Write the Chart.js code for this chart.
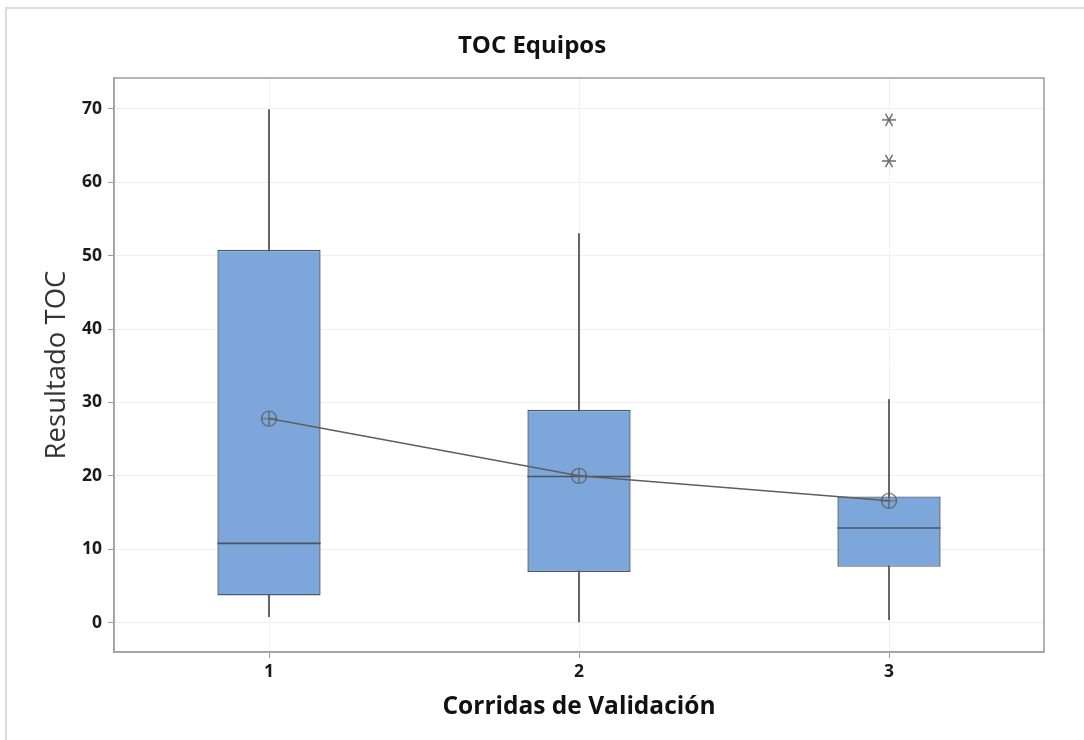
<!DOCTYPE html>
<html>
<head>
<meta charset="utf-8">
<script src="https://cdn.jsdelivr.net/npm/chart.js@4.4.1/dist/chart.umd.min.js"></script>
<style>
  html, body { margin: 0; padding: 0; background: #fff; }
  #wrap { width: 1084px; height: 740px; position: relative; }
</style>
</head>
<body>
<div id="wrap"><canvas id="tocChart" width="1084" height="740"></canvas></div>
<script>
// datos
var corridas = ['1', '2', '3'];
var bigoteMin = [0.8, 0.1, 0.4];
var q1 = [3.7, 6.9, 7.6];
var mediana = [10.8, 19.9, 12.9];
var q3 = [50.8, 29.0, 17.2];
var bigoteMax = [69.9, 53.0, 30.4];
var media = [27.8, 20.0, 16.6];
var atipicosCorrida = ['3', '3'];
var atipicosValor = [68.5, 62.9];
var yTicks = [0, 10, 20, 30, 40, 50, 60, 70];

var gris = '#5e5e5e';

// simbolo de media: circulo con cruz
function marcaMedia() {
  var c = document.createElement('canvas');
  c.width = 20; c.height = 20;
  var g = c.getContext('2d');
  g.strokeStyle = gris;
  g.lineWidth = 1.2;
  g.beginPath();
  g.arc(10, 10, 7.5, 0, Math.PI * 2);
  g.moveTo(2.5, 10); g.lineTo(17.5, 10);
  g.moveTo(10, 2.5); g.lineTo(10, 17.5);
  g.stroke();
  return c;
}

// asterisco de atipicos
function marcaAtipico() {
  var c = document.createElement('canvas');
  c.width = 18; c.height = 18;
  var g = c.getContext('2d');
  g.strokeStyle = '#6a6a6a';
  g.lineWidth = 1.4;
  g.beginPath();
  for (var k = 0; k < 3; k++) {
    var a = k * Math.PI / 3;
    g.moveTo(9 - 7 * Math.cos(a), 9 - 7 * Math.sin(a));
    g.lineTo(9 + 7 * Math.cos(a), 9 + 7 * Math.sin(a));
  }
  g.stroke();
  return c;
}

var cajasPlugin = {
  id: 'cajas',
  beforeDraw: function (chart) {
    var ctx = chart.ctx;
    ctx.save();
    ctx.strokeStyle = '#dcdcdc';
    ctx.lineWidth = 2;
    ctx.beginPath();
    ctx.moveTo(6, 740); ctx.lineTo(6, 8); ctx.lineTo(1084, 8);
    ctx.stroke();
    ctx.restore();
  },
  afterDatasetDraw: function (chart, args) {
    if (args.index !== 1) return;
    // medianas sobre las cajas
    var ctx = chart.ctx;
    var meta = chart.getDatasetMeta(1);
    var y = chart.scales.y;
    ctx.save();
    ctx.strokeStyle = '#4a5561';
    ctx.lineWidth = 1.6;
    meta.data.forEach(function (bar, i) {
      var py = y.getPixelForValue(mediana[i]);
      ctx.beginPath();
      ctx.moveTo(bar.x - bar.width / 2, py);
      ctx.lineTo(bar.x + bar.width / 2, py);
      ctx.stroke();
    });
    ctx.restore();
  },
  afterDraw: function (chart) {
    var a = chart.chartArea;
    var ctx = chart.ctx;
    ctx.save();
    ctx.strokeStyle = '#a2a2a2';
    ctx.lineWidth = 1.6;
    ctx.strokeRect(a.left, a.top, a.right - a.left, a.bottom - a.top);
    ctx.restore();
  }
};

var ctx = document.getElementById('tocChart').getContext('2d');
var tocChart = new Chart(ctx, {
  type: 'bar',
  data: {
    labels: corridas,
    datasets: [
      {
        type: 'line',
        data: media,
        borderColor: gris,
        borderWidth: 1.5,
        pointStyle: marcaMedia(),
        pointRadius: 9,
        tension: 0,
        fill: false,
        order: 0
      },
      {
        data: corridas.map(function (c, i) { return [q1[i], q3[i]]; }),
        backgroundColor: '#7da7db',
        borderColor: '#4d5a68',
        borderWidth: 1.4,
        borderSkipped: false,
        barPercentage: 0.333,
        categoryPercentage: 1,
        grouped: false,
        order: 2
      },
      {
        // bigotes
        data: corridas.map(function (c, i) { return [bigoteMin[i], bigoteMax[i]]; }),
        backgroundColor: '#666666',
        borderWidth: 0,
        barThickness: 1.4,
        grouped: false,
        order: 3
      },
      {
        type: 'line',
        data: atipicosCorrida.map(function (c, i) { return { x: c, y: atipicosValor[i] }; }),
        showLine: false,
        pointStyle: marcaAtipico(),
        pointRadius: 8,
        order: 1
      }
    ]
  },
  options: {
    responsive: false,
    animation: false,
    events: [],
    layout: { padding: { left: 20, right: 40, top: 0, bottom: 0 } },
    plugins: {
      legend: { display: false },
      tooltip: { enabled: false },
      title: {
        display: true,
        text: 'TOC Equipos',
        color: '#111',
        font: { family: 'Open Sans', size: 24, weight: 'bold' },
        padding: { top: 31.6, bottom: 17.6 }
      }
    },
    scales: {
      x: {
        offset: true,
        afterFit: function (s) { s.height = 88; },
        grid: { offset: false, color: '#f0f0f0', tickColor: '#9a9a9a', tickLength: 6 },
        border: { color: '#a2a2a2', width: 1.6 },
        ticks: {
          color: '#1a1a1a',
          padding: 4,
          font: { family: 'Open Sans', size: 17.5, weight: 'bold' }
        },
        title: {
          display: true,
          text: 'Corridas de Validación',
          color: '#111',
          font: { family: 'Open Sans', size: 24.5, weight: 'bold' },
          padding: { bottom: 18.3 }
        }
      },
      y: {
        min: -4,
        max: 74.2,
        afterFit: function (s) { s.width = 94; },
        afterBuildTicks: function (s) { s.ticks = yTicks.map(function (v) { return { value: v }; }); },
        grid: { color: '#f0f0f0', tickColor: '#9a9a9a', tickLength: 6 },
        border: { color: '#a2a2a2', width: 1.6 },
        ticks: {
          color: '#1a1a1a',
          padding: 6,
          font: { family: 'Open Sans', size: 17.5, weight: 'bold' }
        },
        title: {
          display: true,
          text: 'Resultado TOC',
          color: '#333',
          font: { family: 'Open Sans', size: 27.5 },
          padding: { top: 20.5 }
        }
      }
    }
  },
  plugins: [cajasPlugin]
});
</script>
</body>
</html>
